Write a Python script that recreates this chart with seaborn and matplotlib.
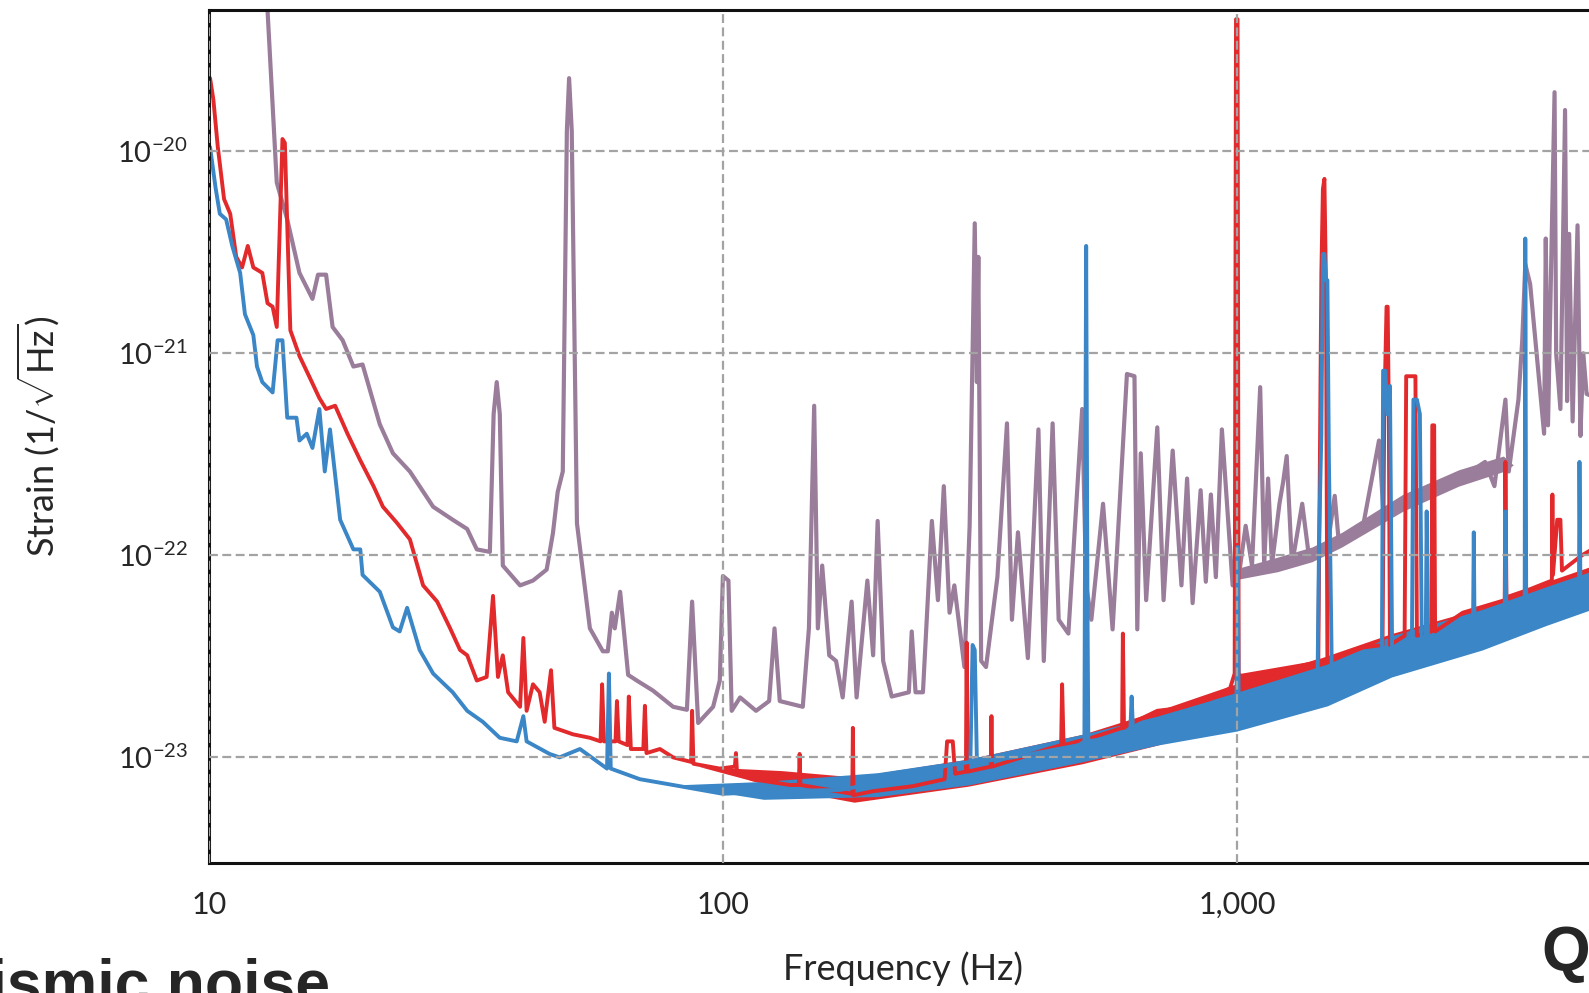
import pandas as pd
import numpy as np
import matplotlib
matplotlib.use("Agg")
import matplotlib.pyplot as plt
from matplotlib.ticker import LogLocator, NullFormatter, FuncFormatter
import seaborn as sns

# strain noise curves, (frequency Hz, strain 1/sqrt(Hz))
ligo_s6 = [
    (12.6, 1.0e-19), (13.0, 5.0e-20), (13.55, 7.0e-21), (14.2, 4.6e-21), (15.0, 2.5e-21),
    (15.9, 1.86e-21), (16.3, 2.45e-21), (16.9, 2.45e-21), (17.4, 1.35e-21), (18.2, 1.16e-21),
    (19.1, 8.6e-22), (19.9, 8.8e-22), (21.5, 4.45e-22), (22.8, 3.2e-22), (24.6, 2.6e-22),
    (27.3, 1.74e-22), (29.8, 1.5e-22), (31.8, 1.35e-22), (33.2, 1.07e-22), (35.2, 1.04e-22),
    (35.8, 5.0e-22), (36.3, 7.2e-22), (36.8, 5.0e-22), (37.3, 8.9e-23), (40.3, 7.1e-23),
    (42.7, 7.5e-23), (45.4, 8.5e-23), (46.7, 1.29e-22), (47.7, 2.06e-22), (48.8, 2.6e-22),
    (49.7, 1.26e-20), (50.2, 2.3e-20), (50.8, 1.26e-20), (52.0, 1.44e-22), (55.1, 4.35e-23),
    (58.4, 3.35e-23), (59.7, 3.35e-23), (60.8, 5.2e-23), (61.6, 4.35e-23), (63.1, 6.6e-23),
    (65.4, 2.56e-23), (68.0, 2.4e-23), (73.1, 2.14e-23), (80.0, 1.78e-23), (85.1, 1.72e-23),
    (87.1, 5.9e-23), (89.5, 1.48e-23), (95.7, 1.78e-23), (98.6, 2.4e-23), (100.0, 7.9e-23),
    (102.5, 7.5e-23), (104.0, 1.7e-23), (108, 1.98e-23), (116, 1.7e-23), (123, 1.9e-23),
    (126, 4.35e-23), (129, 1.9e-23), (143, 1.78e-23), (147, 4.35e-23), (150.5, 5.5e-22),
    (153, 4.35e-23), (156, 8.9e-23), (161, 3.2e-23), (166, 3.0e-23), (171, 1.98e-23),
    (178, 5.9e-23), (182, 1.98e-23), (191, 7.5e-23), (196, 3.2e-23), (200, 1.48e-22),
    (205, 3.0e-23), (213, 2.0e-23), (230, 2.1e-23), (233, 4.2e-23), (237, 2.1e-23),
    (245, 2.1e-23), (255, 1.48e-22), (262, 6.0e-23), (269, 2.2e-22), (276, 5.2e-23),
    (282, 7.1e-23), (295, 2.8e-23), (302, 1.4e-22), (309, 4.4e-21), (312, 7.2e-22),
    (314, 3.0e-21), (318, 3.0e-23), (325, 2.8e-23), (342, 7.8e-23), (357, 4.5e-22),
    (365, 4.8e-23), (375, 1.3e-22), (392, 3.1e-23), (411, 4.2e-22), (421, 3.0e-23),
    (438, 4.5e-22), (450, 4.8e-23), (470, 4.1e-23), (500, 5.3e-22), (509, 7.1e-23),
    (521, 4.8e-23), (549, 1.8e-22), (573, 4.3e-23), (611, 7.9e-22), (632, 7.7e-22),
    (640, 4.3e-23), (650, 3.2e-22), (666, 6.0e-23), (700, 4.3e-22), (720, 6.0e-23),
    (750, 3.3e-22), (780, 7.1e-23), (800, 2.4e-22), (820, 5.8e-23), (850, 2.1e-22),
    (870, 7.4e-23), (890, 2.0e-22), (910, 7.8e-23), (935, 4.2e-22), (981, 7.1e-23),
    (1010, 8.1e-23), (1040, 1.4e-22), (1070, 8.9e-23), (1110, 6.8e-22), (1130, 9.0e-23),
    (1150, 2.4e-22), (1170, 9.0e-23), (1210, 1.8e-22), (1230, 2.3e-22), (1250, 3.1e-22),
    (1280, 9.0e-23), (1340, 1.8e-22), (1380, 1.0e-22), (1500, 1.1e-22), (1550, 1.97e-22),
    (1580, 1.13e-22), (1760, 1.4e-22), (1890, 3.7e-22), (1930, 1.55e-22), (2110, 1.85e-22),
    (2360, 2.2e-22), (2750, 2.45e-22), (3040, 2.9e-22), (3170, 2.2e-22), (3330, 5.9e-22),
    (3380, 2.6e-22), (3530, 5.9e-22), (3590, 1.15e-21), (3640, 2.76e-21), (3720, 2.2e-21),
    (3890, 6.5e-22), (3960, 4.0e-22), (3990, 3.7e-21), (4030, 4.4e-22), (4110, 5.6e-21),
    (4150, 1.96e-20), (4180, 1.0e-21), (4260, 5.3e-22), (4350, 1.6e-20), (4390, 5.8e-22),
    (4430, 3.9e-21), (4500, 4.6e-22), (4600, 4.3e-21), (4660, 3.9e-22), (4720, 1.0e-21),
    (4790, 6.3e-22), (5000, 6.0e-22),
]

livingston = [
    (10.05, 2.3e-20), (10.2, 1.8e-20), (10.4, 1.06e-20), (10.7, 5.8e-21), (11.0, 4.9e-21),
    (11.3, 3.0e-21), (11.6, 2.66e-21), (11.9, 3.4e-21), (12.2, 2.66e-21), (12.7, 2.5e-21),
    (13.0, 1.77e-21), (13.3, 1.7e-21), (13.55, 1.35e-21), (13.9, 1.15e-20), (14.05, 1.1e-20),
    (14.4, 1.3e-21), (15.0, 9.7e-22), (15.7, 7.6e-22), (16.4, 6.0e-22), (16.9, 5.3e-22),
    (17.6, 5.5e-22), (18.6, 4.0e-22), (19.7, 2.95e-22), (20.9, 2.2e-22), (21.8, 1.74e-22),
    (23.2, 1.45e-22), (24.6, 1.2e-22), (26.1, 7.1e-23), (27.8, 5.9e-23), (29.4, 4.4e-23),
    (30.8, 3.4e-23), (31.8, 3.2e-23), (33.2, 2.4e-23), (34.7, 2.5e-23), (35.7, 6.3e-23),
    (36.5, 2.5e-23), (37.3, 3.2e-23), (38.2, 2.1e-23), (40.3, 1.78e-23), (40.9, 3.9e-23),
    (41.5, 1.7e-23), (42.7, 2.3e-23), (44.0, 2.1e-23), (45.0, 1.5e-23), (46.3, 2.7e-23),
    (47.0, 1.4e-23), (51.1, 1.3e-23), (55.1, 1.25e-23), (57.8, 1.2e-23), (58.2, 2.3e-23),
    (58.7, 1.2e-23), (61.8, 1.2e-23), (62.2, 1.9e-23), (62.7, 1.2e-23), (65.2, 1.15e-23),
    (65.6, 2.0e-23), (66.2, 1.1e-23), (70.0, 1.1e-23), (70.5, 1.8e-23), (71.0, 1.05e-23),
    (75.4, 1.1e-23), (80.0, 1.0e-23), (86.7, 9.5e-24), (87.1, 1.7e-23), (87.6, 9.3e-24),
    (98.6, 8.8e-24), (105.5, 9.0e-24), (106, 1.05e-23), (106.5, 8.5e-24), (114, 7.8e-24),
    (135, 7.3e-24), (140.5, 7.3e-24), (141, 1.04e-23), (141.5, 7.3e-24), (178.5, 6.6e-24),
    (179, 1.4e-23), (179.5, 6.5e-24), (196, 6.8e-24), (234, 7.2e-24), (270, 7.8e-24),
    (273, 1.2e-23), (280, 1.2e-23), (283, 8.3e-24), (297, 8.5e-24), (298, 3.7e-23),
    (299, 8.5e-24), (332, 9.0e-24), (333, 1.6e-23), (334, 9.0e-24), (428, 1.1e-23),
    (455, 1.15e-23), (457, 2.3e-23), (460, 1.15e-23), (521, 1.25e-23), (598, 1.4e-23),
    (600, 4.1e-23), (603, 1.4e-23), (615, 1.45e-23), (700, 1.7e-23), (770, 1.75e-23),
    (890, 1.95e-23), (970, 2.2e-23), (990, 2.6e-23), (996, 4.5e-20), (1003, 4.5e-20),
    (1008, 2.6e-23), (1030, 2.4e-23), (1210, 2.65e-23), (1380, 2.9e-23), (1440, 3.0e-23),
    (1460, 2.5e-21), (1470, 6.5e-21), (1480, 7.3e-21), (1490, 2.3e-21), (1500, 3.0e-23),
    (1760, 3.5e-23), (1920, 3.6e-23), (1935, 5.0e-22), (1955, 1.7e-21), (1965, 1.7e-21),
    (1975, 5.0e-22), (1985, 3.6e-23), (2120, 4.0e-23), (2135, 7.7e-22), (2225, 7.7e-22),
    (2240, 4.0e-23), (2390, 4.2e-23), (2400, 4.4e-22), (2420, 4.4e-22), (2430, 4.2e-23),
    (2750, 5.2e-23), (3320, 6.0e-23), (3330, 2.9e-22), (3345, 6.2e-23), (3720, 6.8e-23),
    (4100, 7.5e-23), (4110, 2.0e-22), (4120, 8.0e-23), (4200, 1.5e-22), (4260, 1.5e-22),
    (4290, 8.4e-23), (4690, 1.0e-22), (5000, 1.1e-22),
]

hanford = [
    (10.05, 1.05e-20), (10.3, 6.6e-21), (10.5, 4.9e-21), (10.8, 4.6e-21), (11.1, 3.4e-21),
    (11.5, 2.5e-21), (11.75, 1.56e-21), (12.2, 1.23e-21), (12.4, 8.6e-22), (12.7, 7.2e-22),
    (13.3, 6.4e-22), (13.6, 1.16e-21), (13.9, 1.16e-21), (14.2, 4.8e-22), (14.8, 4.8e-22),
    (15.0, 3.7e-22), (15.5, 4.0e-22), (15.9, 3.4e-22), (16.4, 5.3e-22), (16.8, 2.6e-22),
    (17.2, 4.2e-22), (18.0, 1.5e-22), (19.1, 1.07e-22), (19.7, 1.07e-22), (19.9, 8.0e-23),
    (21.5, 6.6e-23), (22.8, 4.4e-23), (23.5, 4.2e-23), (24.3, 5.5e-23), (25.7, 3.4e-23),
    (27.3, 2.6e-23), (29.8, 2.1e-23), (31.8, 1.7e-23), (34.1, 1.5e-23), (36.8, 1.25e-23),
    (39.7, 1.2e-23), (40.9, 1.6e-23), (41.5, 1.2e-23), (46.0, 1.04e-23), (48.1, 1.0e-23),
    (52.7, 1.1e-23), (59.5, 8.8e-24), (60.0, 2.6e-23), (60.5, 8.8e-24), (68.9, 7.8e-24),
    (80.0, 7.3e-24), (100, 6.6e-24), (125, 6.8e-24), (169, 6.9e-24), (220, 7.8e-24),
    (272, 9.1e-24), (303, 9.5e-24), (306, 3.6e-23), (309, 3.4e-23), (312, 9.5e-24),
    (367, 1.0e-23), (493, 1.15e-23), (505, 1.2e-23), (506, 5.8e-23), (509, 3.4e-21),
    (512, 5.8e-23), (514, 1.2e-23), (620, 1.3e-23), (624, 2.0e-23), (628, 1.35e-23),
    (666, 1.35e-23), (890, 1.55e-23), (981, 1.7e-23), (998, 1.8e-23), (1003, 1.1e-22),
    (1008, 1.9e-23), (1435, 2.4e-23), (1445, 1.2e-22), (1460, 4.0e-22), (1470, 3.1e-21),
    (1480, 3.1e-21), (1490, 2.3e-21), (1500, 2.3e-21), (1510, 3.0e-22), (1525, 5.0e-23),
    (1530, 2.6e-23), (1915, 3.0e-23), (1925, 8.2e-22), (1945, 8.2e-22), (1960, 5.0e-22),
    (1985, 6.9e-22), (2005, 3.1e-23), (2190, 3.3e-23), (2205, 5.9e-22), (2240, 5.9e-22),
    (2270, 5.0e-22), (2290, 3.4e-23), (2330, 3.5e-23), (2340, 1.65e-22), (2355, 3.6e-23),
    (2880, 4.3e-23), (2890, 1.3e-22), (2900, 4.4e-23), (3320, 4.9e-23), (3330, 1.65e-22),
    (3345, 5.0e-23), (3630, 5.3e-23), (3640, 3.7e-21), (3655, 5.4e-23), (4630, 6.6e-23),
    (4640, 2.9e-22), (4660, 6.7e-23), (5000, 7.0e-23),
]

# thickness of the noisy floor (frequency, lower edge, upper edge)
livingston_band = [
    (90, 9.0e-24, 9.0e-24), (130, 7.0e-24, 8.6e-24), (180, 6.0e-24, 8.0e-24),
    (300, 7.2e-24, 9.8e-24), (500, 9.3e-24, 1.3e-23), (700, 1.15e-23, 1.7e-23),
    (990, 1.5e-23, 2.3e-23), (1010, 1.6e-23, 2.6e-23), (1400, 2.0e-23, 3.0e-23),
    (2000, 2.6e-23, 4.1e-23), (3000, 3.6e-23, 5.5e-23), (4000, 4.7e-23, 7.4e-23),
    (5000, 5.7e-23, 9.0e-23),
]
hanford_band = [
    (80, 7.3e-24, 7.3e-24), (120, 6.2e-24, 7.6e-24), (200, 6.4e-24, 8.4e-24),
    (300, 7.3e-24, 9.8e-24), (500, 9.5e-24, 1.3e-23), (700, 1.15e-23, 1.6e-23),
    (1000, 1.35e-23, 2.1e-23), (1500, 1.8e-23, 2.9e-23), (2000, 2.5e-23, 4.0e-23),
    (3000, 3.4e-23, 5.4e-23), (4000, 4.5e-23, 7.0e-23), (5000, 5.5e-23, 8.5e-23),
]
s6_band = [
    (1000, 7.6e-23, 8.6e-23), (1200, 8.3e-23, 9.8e-23), (1400, 9.3e-23, 1.1e-22),
    (1600, 1.1e-22, 1.3e-22), (2100, 1.65e-22, 2.0e-22), (2700, 2.2e-22, 2.65e-22),
    (3300, 2.6e-22, 3.1e-22), (3450, 2.8e-22, 2.8e-22),
]

s6_color = "#9a7d9a"
l1_color = "#e2292b"
h1_color = "#3a86c6"

sns.set_style("white")
plt.rcParams["font.family"] = ["Lato", "DejaVu Sans"]
plt.rcParams["mathtext.fontset"] = "custom"
plt.rcParams["mathtext.rm"] = "Lato"
plt.rcParams["mathtext.it"] = "Lato:italic"
plt.rcParams["mathtext.bf"] = "Lato:bold"

fig = plt.figure(figsize=(15.89, 9.93), dpi=100)
ax = fig.add_axes([0.1315, 0.1309, 0.873, 0.859])
ax.set_xscale("log")
ax.set_yscale("log")

cols = ["freq", "strain"]
s6 = pd.DataFrame(ligo_s6, columns=cols)
l1 = pd.DataFrame(livingston, columns=cols)
h1 = pd.DataFrame(hanford, columns=cols)
s6b = pd.DataFrame(s6_band, columns=["freq", "lo", "hi"])
l1b = pd.DataFrame(livingston_band, columns=["freq", "lo", "hi"])
h1b = pd.DataFrame(hanford_band, columns=["freq", "lo", "hi"])

ax.fill_between(s6b["freq"], s6b["lo"], s6b["hi"], color=s6_color, linewidth=0)
sns.lineplot(data=s6, x="freq", y="strain", ax=ax, color=s6_color, linewidth=3.0,
             estimator=None, sort=False)
ax.fill_between(l1b["freq"], l1b["lo"], l1b["hi"], color=l1_color, linewidth=0)
sns.lineplot(data=l1, x="freq", y="strain", ax=ax, color=l1_color, linewidth=2.8,
             estimator=None, sort=False)
ax.fill_between(h1b["freq"], h1b["lo"], h1b["hi"], color=h1_color, linewidth=0)
sns.lineplot(data=h1, x="freq", y="strain", ax=ax, color=h1_color, linewidth=2.8,
             estimator=None, sort=False)

ax.set_xlim(10, 5000)
ax.set_ylim(3e-24, 5e-20)

# grid sits on top of the curves, like the original
ax.set_axisbelow(False)
ax.grid(True, which="major", color="#a3a3a3", linestyle=(0, (4, 2)), linewidth=1.6)

ax.xaxis.set_major_formatter(FuncFormatter(lambda v, _: f"{v:,.0f}"))
ax.xaxis.set_minor_locator(LogLocator(base=10, subs=np.arange(2, 10), numticks=50))
ax.xaxis.set_minor_formatter(NullFormatter())
ax.yaxis.set_minor_locator(LogLocator(base=10, subs=np.arange(2, 10), numticks=50))
ax.yaxis.set_minor_formatter(NullFormatter())

ax.tick_params(axis="x", which="major", direction="out", length=7, width=1.5,
               labelsize=22, pad=13, color="#222222")
ax.tick_params(axis="x", which="minor", direction="out", length=4, width=1.2, color="#444444")
ax.tick_params(axis="y", which="major", direction="out", length=7, width=1.5,
               labelsize=21, pad=8, color="#222222")
ax.tick_params(axis="y", which="minor", direction="inout", length=5, width=1.2, color="#222222")

for side in ["left", "bottom", "top"]:
    ax.spines[side].set_color("#111111")
    ax.spines[side].set_linewidth(2.2)
ax.spines["right"].set_visible(False)

ax.set_xlabel("Frequency (Hz)", fontsize=26)
ax.set_ylabel(r"Strain (1/$\sqrt{\mathrm{Hz}}$)", fontsize=26)
ax.xaxis.set_label_coords(0.5, -0.104)
ax.yaxis.set_label_coords(-0.107, 0.5)

# slide captions that are cut off by the crop
fig.text(0.2077, -0.011, "Seismic noise", ha="right", va="baseline", fontsize=45,
         fontweight="bold", family="Liberation Sans")
fig.text(0.9705, 0.023, "Quantum noise", ha="left", va="baseline", fontsize=45,
         fontweight="bold", family="Liberation Sans")

fig.savefig("out.png", dpi=100)
